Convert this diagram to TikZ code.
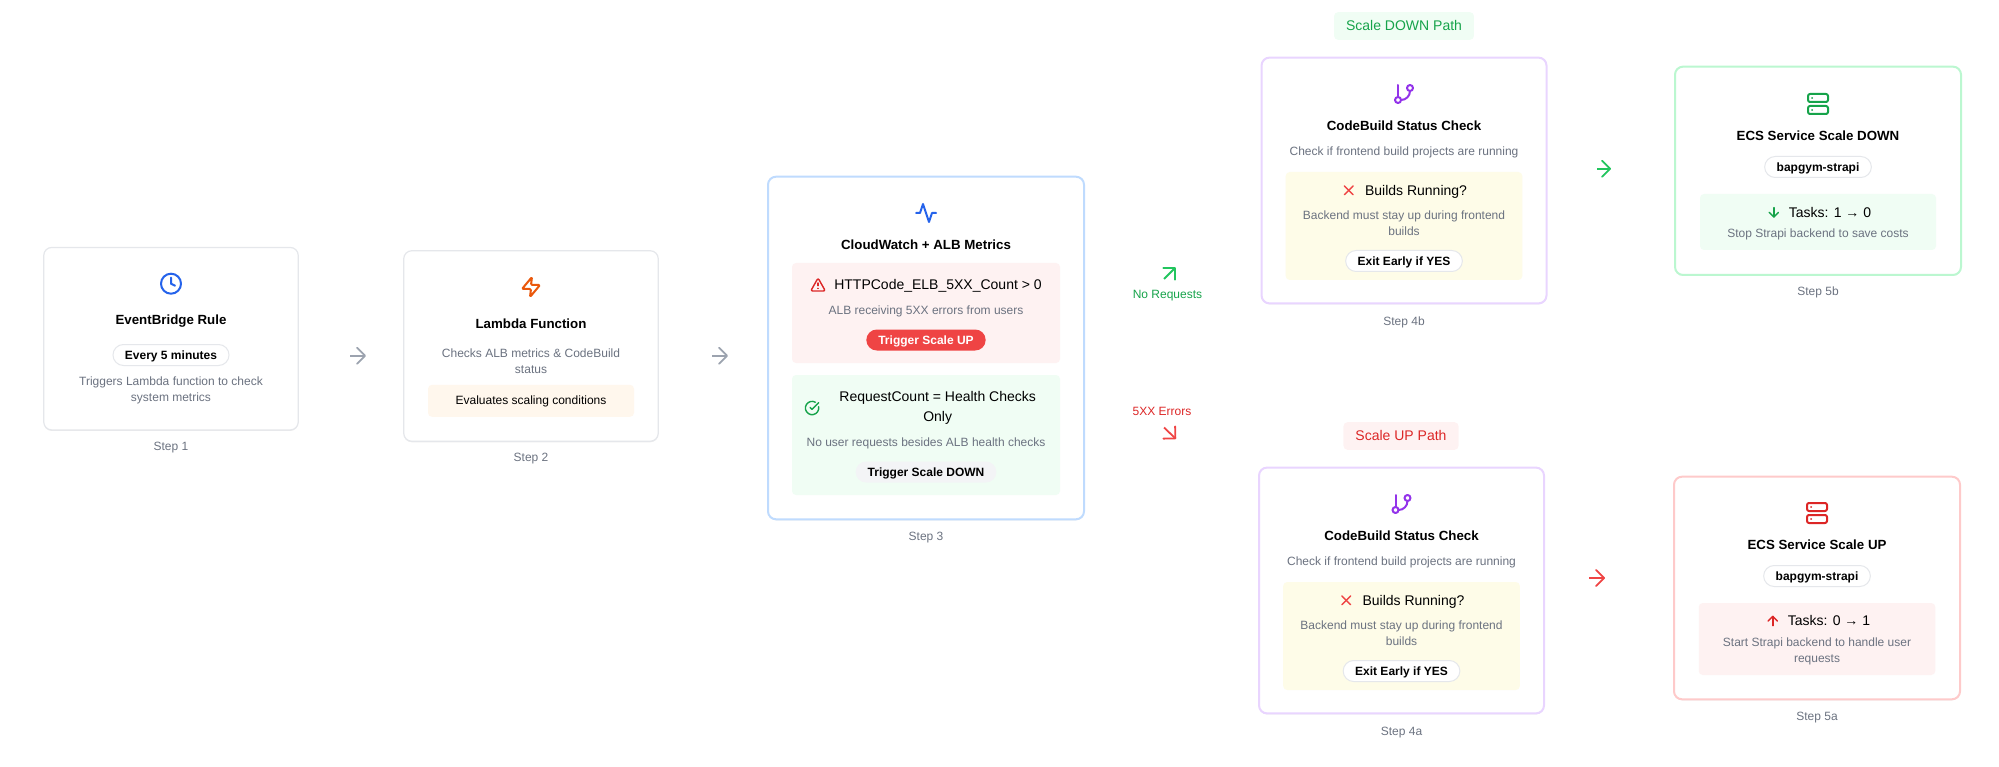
\documentclass[tikz,border=0pt]{standalone}
\usepackage{fontspec}
\setmainfont{Liberation Sans}
\usetikzlibrary{positioning,arrows.meta,shadows}

\definecolor{cardline}{HTML}{E5E7EB}
\definecolor{blueline}{HTML}{BFDBFE}
\definecolor{purpleline}{HTML}{E9D5FF}
\definecolor{greenline}{HTML}{BBF7D0}
\definecolor{redline}{HTML}{FECACA}
\definecolor{greytext}{HTML}{6B7280}
\definecolor{greyarrow}{HTML}{9CA3AF}
\definecolor{greypill}{HTML}{F3F4F6}
\definecolor{redbg}{HTML}{FEF2F2}
\definecolor{greenbg}{HTML}{F0FDF4}
\definecolor{orangebg}{HTML}{FFF7ED}
\definecolor{yellowbg}{HTML}{FEFCE8}
\definecolor{redtxt}{HTML}{DC2626}
\definecolor{greentxt}{HTML}{16A34A}
\definecolor{redarrow}{HTML}{EF4444}
\definecolor{greenarrow}{HTML}{22C55E}
\definecolor{blueicon}{HTML}{2563EB}
\definecolor{orangeicon}{HTML}{EA580C}
\definecolor{purpleicon}{HTML}{9333EA}

\tikzset{node distance=16pt, auto}
\tikzset{
  oneline/.style={text height=10.86pt, text depth=2.54pt},
  bigline/.style={text height=12.67pt, text depth=2.97pt},
  card/.style={draw=cardline, line width=1.2pt, fill=white, rounded corners=8pt, inner sep=0pt,
    drop shadow={shadow xshift=0pt, shadow yshift=-1pt, opacity=.08, fill=black}},
  panel/.style={rounded corners=4pt, inner sep=0pt, font=\fontsize{12}{16}\selectfont},
  title/.style={font=\fontsize{13.3}{18}\selectfont\bfseries, inner sep=0pt, bigline},
  body/.style={font=\fontsize{14}{20}\selectfont, align=center, inner sep=0pt},
  note/.style={font=\fontsize{12}{16}\selectfont, text=greytext, align=center, inner sep=0pt},
  steplabel/.style={font=\fontsize{12}{16}\selectfont, text=greytext, inner sep=0pt, oneline},
  pill/.style={draw=cardline, line width=1pt, fill=white, rounded corners=10.5pt, minimum height=21pt,
    inner xsep=12pt, inner ysep=0pt, font=\fontsize{12}{16}\selectfont\bfseries, oneline},
  pathtag/.style={rounded corners=4pt, minimum height=27.7pt, inner xsep=12pt, inner ysep=0pt,
    font=\fontsize{14}{18}\selectfont, bigline},
  flow/.style={line width=1.8pt, -{Straight Barb[round, length=8pt, width=16pt]}},
  slant/.style={line width=1.8pt, -{Straight Barb[round, length=8.5pt, width=17pt]}},
  icon/.style={line width=2pt, line cap=round, line join=round},
  small/.style={line width=1.4pt, line cap=round, line join=round, scale=.667},
  branchicon/.pic={
    \draw [icon, purpleicon] (-6,-9) -- (-6,3);
    \draw [icon, purpleicon] (6,-6) circle [radius=3];
    \draw [icon, purpleicon] (-6,6) circle [radius=3];
    \draw [icon, purpleicon] (6,-3) arc [start angle=0, end angle=90, radius=9];
  },
  servericon/.pic={
    \draw [icon, #1, rounded corners=2pt] (-10,-10) rectangle (10,-2);
    \draw [icon, #1, rounded corners=2pt] (-10,2) rectangle (10,10);
    \draw [icon, #1] (-6,-6) -- (-5.9,-6);
    \draw [icon, #1] (-6,6) -- (-5.9,6);
  },
  crossicon/.pic={
    \draw [small, redarrow, scale=1.1] (6,-6) -- (-6,6);
    \draw [small, redarrow, scale=1.1] (-6,-6) -- (6,6);
  },
}

\begin{document}
\begin{tikzpicture}[x=1pt, y=-1pt]

  \useasboundingbox (0,0) rectangle (1999,767);

  \node (C1) [card, minimum width=254.5pt, minimum height=182.5pt] at (171,338.7) {};
  \coordinate [node distance=55pt, above of=C1] (Ic1);
  \node (T1) [title, node distance=36.3pt, below of=Ic1] {EventBridge Rule};
  \node (P1) [pill, node distance=35pt, below of=T1] {Every 5 minutes};
  \node (D1) [note, node distance=35.7pt, below of=P1] {Triggers Lambda function to check\\system metrics};
  \node (S1) [steplabel, node distance=108pt, below of=C1] {Step 1};
  \draw [icon, blueicon] (Ic1) circle [radius=10];
  \draw [icon, blueicon] ([yshift=6pt]Ic1) -- (Ic1) -- ([xshift=4pt, yshift=-2pt]Ic1);

  \node (C2) [card, minimum width=254.5pt, minimum height=190.5pt] at (531,346) {};
  \coordinate [node distance=59pt, above of=C2] (Ic2);
  \node (T2) [title, node distance=36.3pt, below of=Ic2] {Lambda Function};
  \node (D2) [note, node distance=37.5pt, below of=T2] {Checks ALB metrics \& CodeBuild\\status};
  \node (B2) [panel, oneline, fill=orangebg, minimum width=206pt, minimum height=32pt, node distance=40pt, below of=D2] {Evaluates scaling conditions};
  \node (S2) [steplabel, node distance=111.7pt, below of=C2] {Step 2};
  \draw [icon, orangeicon, shift={(Ic2)}, rounded corners=1.2pt] (1,-10) -- (-9,2) -- (0,2) -- (-1,10) -- (9,-2) -- (0,-2) -- cycle;

  \node (C3) [card, draw=blueline, line width=2pt, minimum width=316pt, minimum height=342.6pt] at (926,348) {};
  \coordinate [node distance=135pt, above of=C3] (Ic3);
  \node (T3) [title, node distance=32pt, below of=Ic3] {CloudWatch + ALB Metrics};
  \node (R3) [panel, fill=redbg, minimum width=268pt, minimum height=100pt, node distance=68pt, below of=T3] {};
  \node (H3) [body, bigline, node distance=28pt, above of=R3, xshift=12pt] {HTTPCode\_ELB\_5XX\_Count > 0};
  \coordinate [node distance=120pt, left of=H3] (W3);
  \node (A3) [note, oneline, node distance=2.3pt, above of=R3] {ALB receiving 5XX errors from users};
  \node (U3) [pill, draw=none, fill=redarrow, text=white, node distance=27pt, below of=R3] {Trigger Scale UP};
  \node (G3) [panel, fill=greenbg, minimum width=268pt, minimum height=120pt, node distance=122pt, below of=R3] {};
  \node (Q3) [body, node distance=27pt, above of=G3, xshift=11.7pt] {RequestCount = Health Checks\\Only};
  \coordinate [node distance=125.7pt, left of=Q3] (K3);
  \node (N3) [note, oneline, node distance=7.7pt, below of=G3] {No user requests besides ALB health checks};
  \node (V3) [pill, draw=none, fill=greypill, node distance=37pt, below of=G3] {Trigger Scale DOWN};
  \node (S3) [steplabel, node distance=188.7pt, below of=C3] {Step 3};
  \draw [icon, blueicon, shift={(Ic3)}] (10,0) -- (6,0) -- (3,9) -- (-3,-9) -- (-6,0) -- (-10,0);
  \draw [small, redtxt, shift={(W3)}, rounded corners=2pt] (0,-10.5) -- (-11,9) -- (11,9) -- cycle;
  \draw [small, redtxt, shift={(W3)}] (0,-3) -- (0,1);
  \draw [small, redtxt, shift={(W3)}] (0,5) -- (0,5.1);
  \draw [small, greentxt, shift={(K3)}] (9.8,-2) arc [start angle=-11.5, end angle=300, radius=10];
  \draw [small, greentxt, shift={(K3)}] (-3,-1) -- (0,2) -- (10,-8);

  \node (L4b) [pathtag, fill=greenbg, text=greentxt] at (1404,26) {Scale DOWN Path};
  \node (C4b) [card, draw=purpleline, line width=2pt, minimum width=285pt, minimum height=245.8pt] at (1404,180.5) {};
  \coordinate [node distance=86.5pt, above of=C4b] (Ic4b);
  \node (T4b) [title, node distance=32pt, below of=Ic4b] {CodeBuild Status Check};
  \node (D4b) [note, oneline, node distance=25.7pt, below of=T4b] {Check if frontend build projects are running};
  \node (Y4b) [panel, fill=yellowbg, minimum width=236.6pt, minimum height=108pt, node distance=74.3pt, below of=D4b] {};
  \node (B4b) [body, bigline, node distance=35.7pt, above of=Y4b, xshift=12pt] {Builds Running?};
  \coordinate [node distance=67.3pt, left of=B4b] (X4b);
  \node (E4b) [note, node distance=2.3pt, above of=Y4b] {Backend must stay up during frontend\\builds};
  \node (P4b) [pill, node distance=35pt, below of=Y4b] {Exit Early if YES};
  \node (S4b) [steplabel, node distance=141.2pt, below of=C4b] {Step 4b};
  \pic at (Ic4b) {branchicon};
  \pic at (X4b) {crossicon};

  \node (L4a) [pathtag, fill=redbg, text=redtxt] at (1401,436) {Scale UP Path};
  \node (C4a) [card, draw=purpleline, line width=2pt, minimum width=285pt, minimum height=245.8pt] at (1401.5,590.5) {};
  \coordinate [node distance=86.5pt, above of=C4a] (Ic4a);
  \node (T4a) [title, node distance=32pt, below of=Ic4a] {CodeBuild Status Check};
  \node (D4a) [note, oneline, node distance=25.7pt, below of=T4a] {Check if frontend build projects are running};
  \node (Y4a) [panel, fill=yellowbg, minimum width=236.6pt, minimum height=108pt, node distance=74.3pt, below of=D4a] {};
  \node (B4a) [body, bigline, node distance=35.7pt, above of=Y4a, xshift=12pt] {Builds Running?};
  \coordinate [node distance=67.3pt, left of=B4a] (X4a);
  \node (E4a) [note, node distance=2.3pt, above of=Y4a] {Backend must stay up during frontend\\builds};
  \node (P4a) [pill, node distance=35pt, below of=Y4a] {Exit Early if YES};
  \node (S4a) [steplabel, node distance=141.2pt, below of=C4a] {Step 4a};
  \pic at (Ic4a) {branchicon};
  \pic at (X4a) {crossicon};

  \node (C5b) [card, draw=greenline, line width=2pt, minimum width=286pt, minimum height=208.3pt] at (1818,170.8) {};
  \coordinate [node distance=66.8pt, above of=C5b] (Ic5b);
  \node (T5b) [title, node distance=32pt, below of=Ic5b] {ECS Service Scale DOWN};
  \node (P5b) [pill, node distance=31pt, below of=T5b] {bapgym-strapi};
  \node (G5b) [panel, fill=greenbg, minimum width=236pt, minimum height=56pt, node distance=55pt, below of=P5b] {};
  \node (K5b) [body, bigline, node distance=9.7pt, above of=G5b, xshift=12pt] {Tasks: 1 → 0};
  \coordinate [node distance=56.3pt, left of=K5b] (Ar5b);
  \node (M5b) [note, oneline, node distance=11.7pt, below of=G5b] {Stop Strapi backend to save costs};
  \node (S5b) [steplabel, node distance=120.9pt, below of=C5b] {Step 5b};
  \pic at (Ic5b) {servericon=greentxt};
  \draw [small, greentxt, shift={(Ar5b)}] (0,-7) -- (0,7);
  \draw [small, greentxt, shift={(Ar5b)}] (7,0) -- (0,7) -- (-7,0);

  \node (C5a) [card, draw=redline, line width=2pt, minimum width=286pt, minimum height=222.6pt] at (1817,588) {};
  \coordinate [node distance=75pt, above of=C5a] (Ic5a);
  \node (T5a) [title, node distance=32pt, below of=Ic5a] {ECS Service Scale UP};
  \node (P5a) [pill, node distance=31pt, below of=T5a] {bapgym-strapi};
  \node (G5a) [panel, fill=redbg, minimum width=236.5pt, minimum height=72pt, node distance=63pt, below of=P5a] {};
  \node (K5a) [body, bigline, node distance=18pt, above of=G5a, xshift=12pt] {Tasks: 0 → 1};
  \coordinate [node distance=56.3pt, left of=K5a] (Ar5a);
  \node (M5a) [note, node distance=12.7pt, below of=G5a] {Start Strapi backend to handle user\\requests};
  \node (S5a) [steplabel, node distance=128.7pt, below of=C5a] {Step 5a};
  \pic at (Ic5a) {servericon=redtxt};
  \draw [small, redtxt, shift={(Ar5a)}] (0,7) -- (0,-7);
  \draw [small, redtxt, shift={(Ar5a)}] (-7,0) -- (0,-7) -- (7,0);

  \coordinate (F1a) at (350,355.7);
  \coordinate (F1b) at (366,355.7);
  \coordinate (F2a) at (712,355.7);
  \coordinate (F2b) at (728,355.7);
  \coordinate (F3a) at (1164,279);
  \coordinate (F3b) at (1176,267);
  \coordinate (F4a) at (1164,427.5);
  \coordinate (F4b) at (1176,439);
  \coordinate (F5a) at (1597,168.7);
  \coordinate (F5b) at (1611,168.7);
  \coordinate (F6a) at (1589,578);
  \coordinate (F6b) at (1605,578);

  \node (Nr) [steplabel, text=greentxt] at (1167.5,294) {No Requests};
  \node (Er) [steplabel, text=redtxt] at (1162,411.7) {5XX Errors};

  \draw [flow, greyarrow] (F1a) to (F1b);
  \draw [flow, greyarrow] (F2a) to (F2b);
  \draw [slant, greenarrow] (F3a) to (F3b);
  \draw [slant, redarrow] (F4a) to (F4b);
  \draw [flow, greenarrow] (F5a) to (F5b);
  \draw [flow, redarrow] (F6a) to (F6b);

\end{tikzpicture}
\end{document}
